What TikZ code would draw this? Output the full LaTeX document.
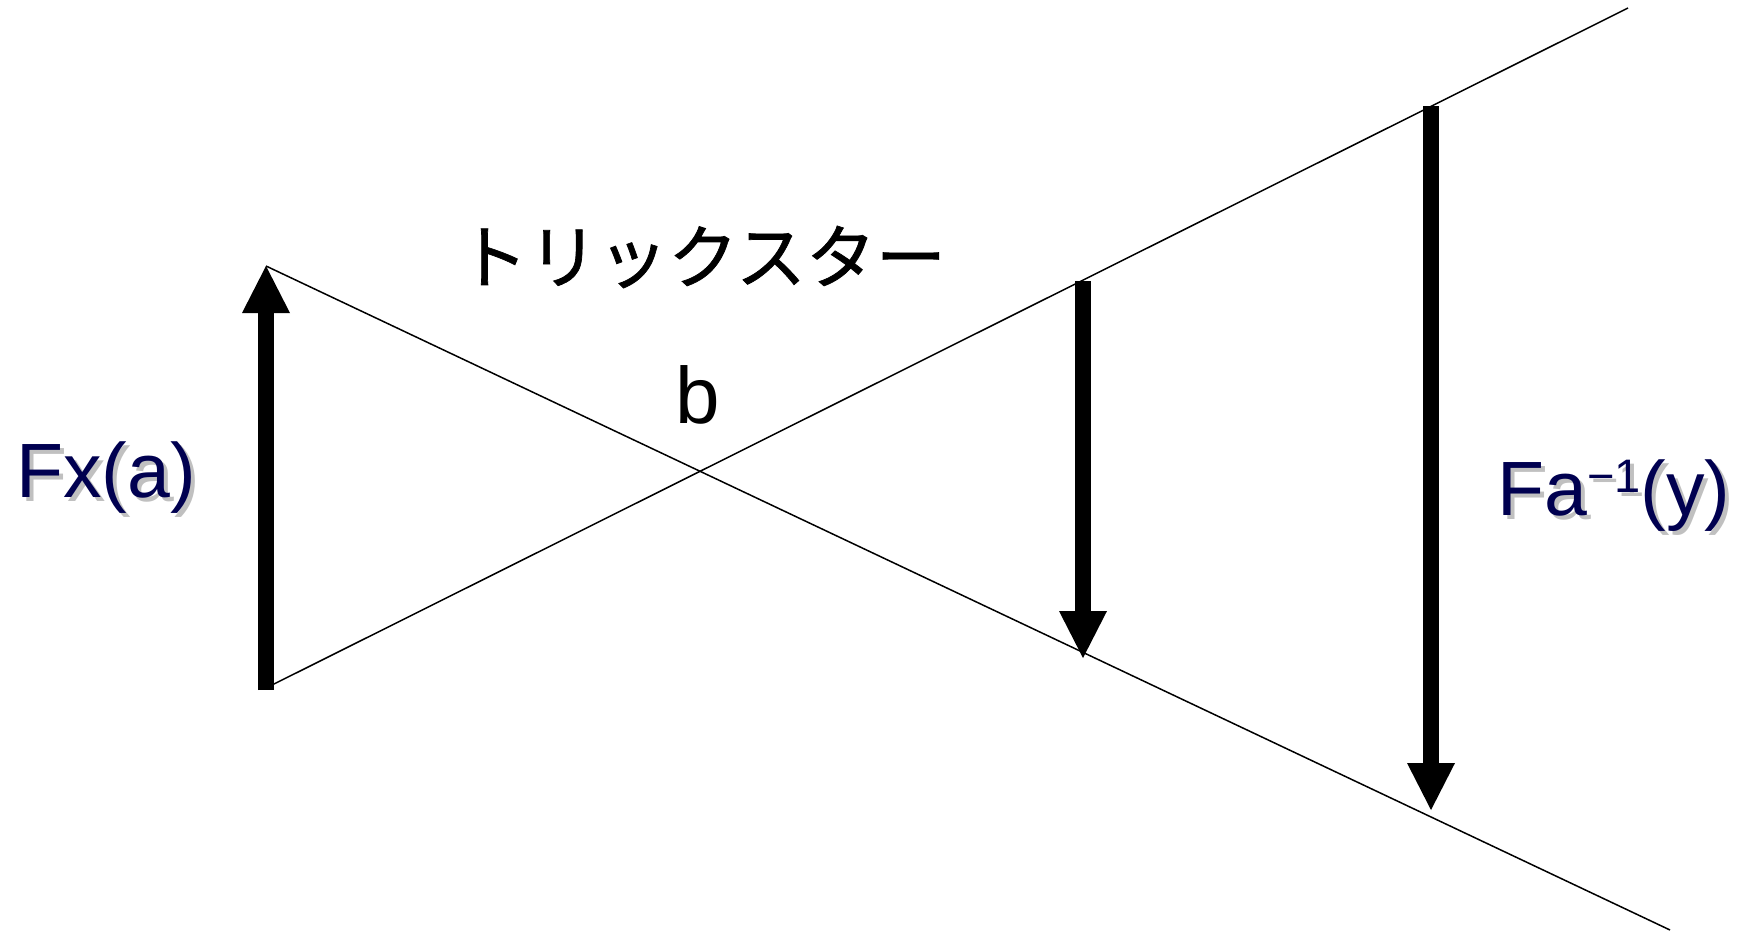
\documentclass[tikz,border=0pt]{standalone}
\usepackage{fontspec}
\setmainfont{Liberation Sans}
\newfontfamily\cjk[FakeBold=1]{Noto Sans CJK JP}
\usetikzlibrary{arrows.meta}
\definecolor{navytext}{RGB}{0,0,80}
\definecolor{shadowgray}{RGB}{192,192,192}
\newcommand{\supminusone}{\raisebox{23pt}{\fontsize{47}{47}\selectfont −1}}
\tikzset{
  thinline/.style={line width=1.5pt, black},
  bigarrow/.style={line width=16pt, black, -{Triangle[width=48pt,length=47pt,line width=0pt]}},
  latinlabel/.style={inner sep=0pt, font=\fontsize{77}{90}\selectfont},
  shadowlabel/.style={latinlabel, text=shadowgray},
  navylabel/.style={latinlabel, text=navytext},
  blacklabel/.style={inner sep=0pt, text=black}
}
\begin{document}
\begin{tikzpicture}[x=1pt,y=-1pt]
\useasboundingbox (0,0) rectangle (1740,930);
% crossing lines
\coordinate (d1) at (266,266);
\coordinate (d2) at (1670,930);
\coordinate (u1) at (266,688);
\coordinate (u2) at (1628,8);
\draw[thinline] (d1) -- (d2);
\draw[thinline] (u1) -- (u2);
% arrows
\coordinate (la0) at (266,690);
\coordinate (la1) at (266,266);
\coordinate (ma0) at (1083,281);
\coordinate (ma1) at (1083,658);
\coordinate (ra0) at (1431,106);
\coordinate (ra1) at (1431,810);
\draw[bigarrow] (la0) -- (la1);
\draw[bigarrow] (ma0) -- (ma1);
\draw[bigarrow] (ra0) -- (ra1);
% labels
\node[blacklabel, font=\cjk\fontsize{70}{82}\selectfont, anchor=center] (trick) at (702,257) {トリックスター};
\node[blacklabel, font=\fontsize{80}{90}\selectfont, anchor=base] (b) at (698,423) {b};
\node[shadowlabel, anchor=base west] (fxs) at (20,501) {Fx(a)};
\node[navylabel, anchor=base west] (fx) at (16,497) {Fx(a)};
\node[shadowlabel, anchor=base west] (fas) at (1501,519) {Fa\supminusone(y)};
\node[navylabel, anchor=base west] (fa) at (1497,515) {Fa\supminusone(y)};
\end{tikzpicture}
\end{document}
